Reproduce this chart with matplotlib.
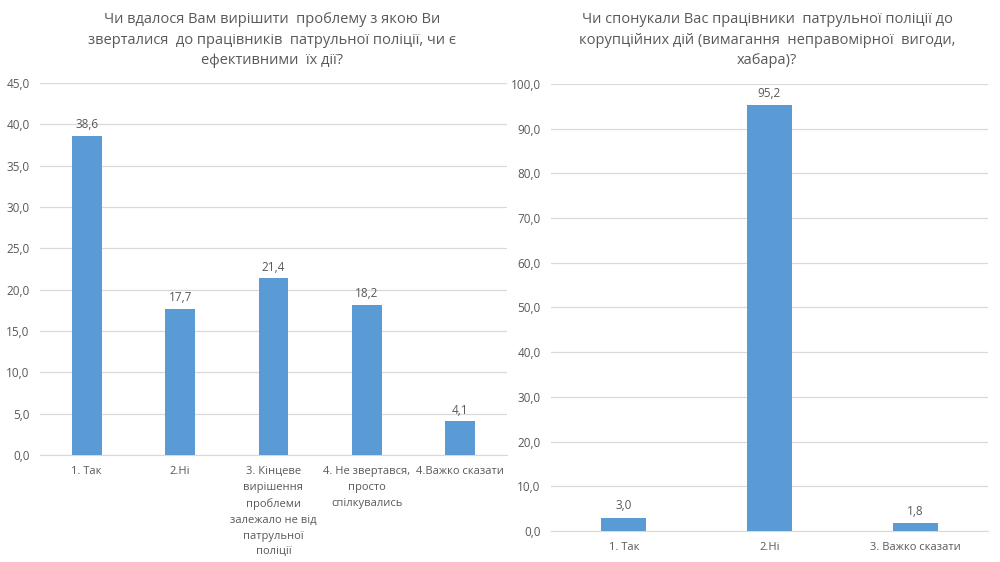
import matplotlib.pyplot as plt
from matplotlib.ticker import FuncFormatter, MultipleLocator

plt.rcParams['font.family'] = ['Open Sans', 'DejaVu Sans']

# дані лівого графіка
cats1 = ['1. Так', '2.Ні',
         '3. Кінцеве\nвирішення\nпроблеми\nзалежало не від\nпатрульної\nполіції',
         '4. Не звертався,\nпросто\nспілкувались', '4.Важко сказати']
vals1 = [38.6, 17.7, 21.4, 18.2, 4.1]
title1 = ('Чи вдалося Вам вирішити  проблему з якою Ви\n'
          'зверталися  до працівників  патрульної поліції, чи є\n'
          'ефективними  їх дії?')

# дані правого графіка
cats2 = ['1. Так', '2.Ні', '3. Важко сказати']
vals2 = [3.0, 95.2, 1.8]
title2 = ('Чи спонукали Вас працівники  патрульної поліції до\n'
          'корупційних дій (вимагання  неправомірної  вигоди,\n'
          'хабара)?')

bar_color = '#5B9BD5'
txt = '#595959'
comma = FuncFormatter(lambda v, p: f'{v:.1f}'.replace('.', ','))

fig = plt.figure(figsize=(10, 5.62), dpi=100)


def draw(ax, cats, vals, ymax, step, width):
    x = range(len(cats))
    ax.bar(x, vals, width=width, color=bar_color, zorder=3)
    for xi, v in zip(x, vals):
        ax.text(xi, v + ymax * 0.012, f'{v:.1f}'.replace('.', ','),
                ha='center', va='bottom', fontsize=8.5, color=txt)
    ax.set_ylim(0, ymax)
    ax.set_xlim(-0.5, len(cats) - 0.5)
    ax.yaxis.set_major_locator(MultipleLocator(step))
    ax.yaxis.set_major_formatter(comma)
    ax.set_xticks(list(x))
    ax.set_xticklabels(cats, fontsize=8, color=txt, linespacing=1.6)
    ax.tick_params(axis='y', labelsize=8.5, labelcolor=txt, length=0, pad=7.5)
    ax.tick_params(axis='x', length=0, pad=8)
    ax.grid(axis='y', color='#D9D9D9', linewidth=0.9, zorder=0)
    for s in ['top', 'right', 'left']:
        ax.spines[s].set_visible(False)
    ax.spines['bottom'].set_color('#D9D9D9')


ax1 = fig.add_axes([0.040, 0.1904, 0.467, 0.6619])
draw(ax1, cats1, vals1, 45, 5, 0.32)
fig.text(0.272, 0.978, title1, ha='center', va='top', fontsize=10.5,
         color=txt, linespacing=1.5)

ax2 = fig.add_axes([0.551, 0.0552, 0.437, 0.7953])
draw(ax2, cats2, vals2, 100, 10, 0.31)
fig.text(0.767, 0.978, title2, ha='center', va='top', fontsize=10.5,
         color=txt, linespacing=1.5)

plt.savefig('out.png', dpi=100, facecolor='white')
